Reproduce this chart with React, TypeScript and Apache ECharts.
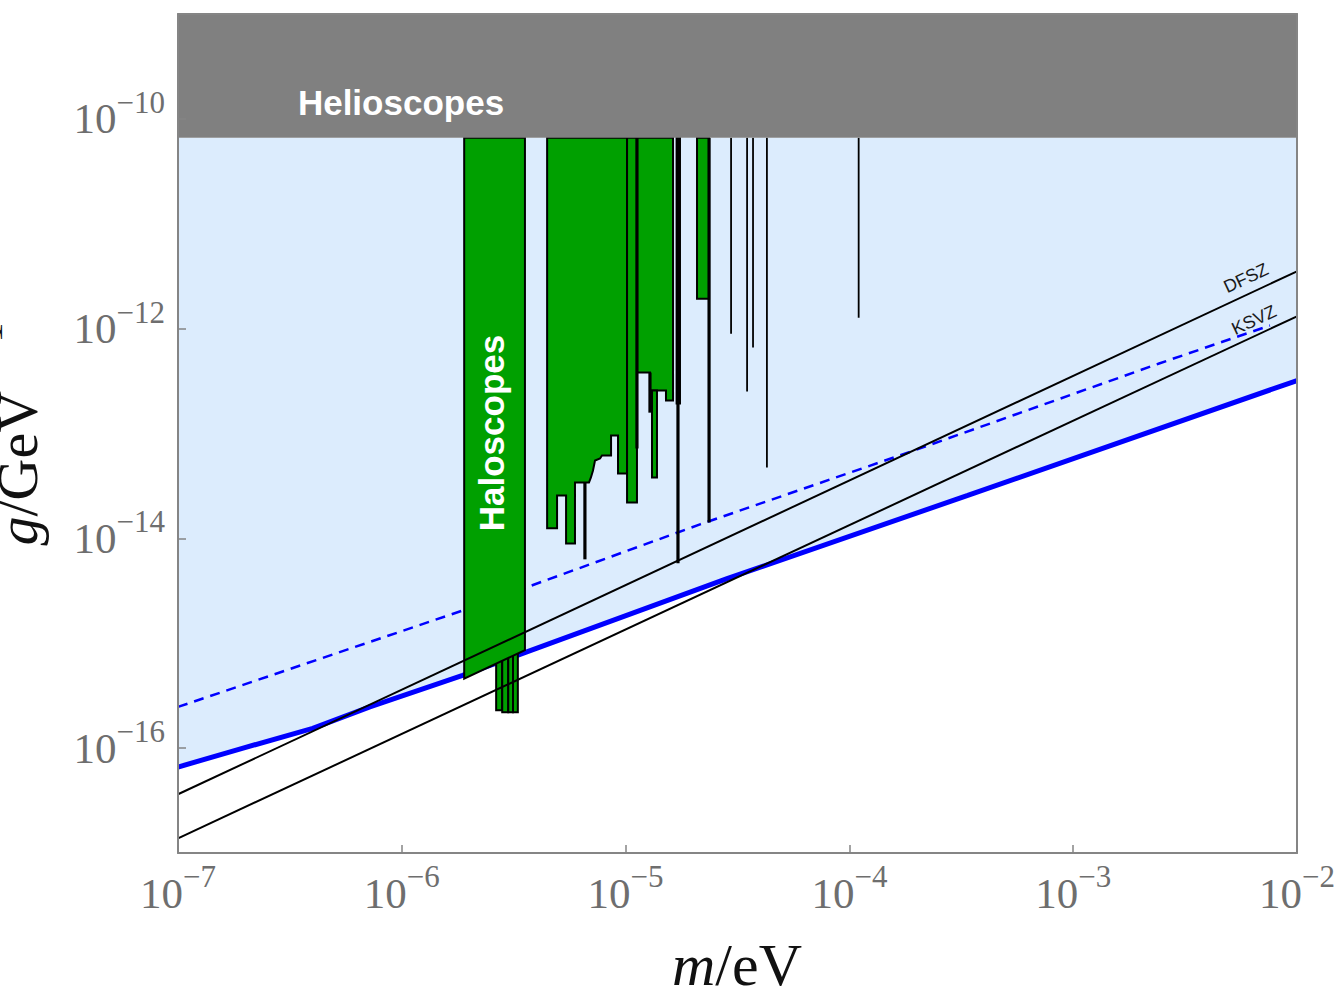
import React, { useEffect, useRef } from "react";
import * as echarts from "echarts";

// Axis ranges (mass in eV, coupling in GeV^-1)
const massMin = 1e-7;
const massMax = 1e-2;
const couplingMin = 1e-17;
const couplingMax = 1e-9;
const massTicks = [1e-7, 1e-6, 1e-5, 1e-4, 1e-3, 1e-2];
const couplingTicks = [1e-16, 1e-14, 1e-12, 1e-10];

// Helioscope bound
const helioscopeLimit = 6.6e-11;

// Lower edge of the shaded band (solid blue)
const bandMass = [1e-7, 1.92e-7, 4.0e-7, 7.2e-7, 1.87e-6, 3.62e-6, 2.84e-5, 3.38e-4, 1e-2];
const bandCoupling = [6.6e-17, 9.9e-17, 1.54e-16, 2.47e-16, 4.95e-16, 8.26e-16, 4.13e-15, 2.57e-14, 3.2e-13];

// Dashed blue curve
const dashedMass = [1e-7, 1.88e-6, 2.15e-5, 1.95e-4, 2.42e-3, 7.57e-3];
const dashedCoupling = [2.47e-16, 2.06e-15, 1.36e-14, 6.9e-14, 4.65e-13, 1.07e-12];

// QCD axion model lines
const dfszMass = [1e-7, 1e-2];
const dfszCoupling = [3.63e-17, 3.52e-12];
const ksvzMass = [1e-7, 1e-2];
const ksvzCoupling = [1.38e-17, 1.31e-12];

// Haloscope exclusions: outlines as [mass, coupling] vertices
const haloscopeMain = [
  [1.9e-6, helioscopeLimit],
  [3.55e-6, helioscopeLimit],
  [3.55e-6, 8.6e-16],
  [1.9e-6, 4.6e-16],
];
const haloscopeStepped = [
  [4.46e-6, helioscopeLimit],
  [1.015e-5, helioscopeLimit],
  [1.015e-5, 4.16e-14],
  [9.25e-6, 4.16e-14],
  [9.25e-6, 9.57e-14],
  [8.61e-6, 9.57e-14],
  [8.61e-6, 6.16e-14],
  [7.84e-6, 6.16e-14],
  [7.69e-6, 5.78e-14],
  [7.3e-6, 5.53e-14],
  [7.15e-6, 4.44e-14],
  [7.0e-6, 3.81e-14],
  [6.86e-6, 3.41e-14],
  [5.94e-6, 3.41e-14],
  [5.94e-6, 8.96e-15],
  [5.42e-6, 8.96e-15],
  [5.42e-6, 2.57e-14],
  [4.94e-6, 2.57e-14],
  [4.94e-6, 1.25e-14],
  [4.46e-6, 1.25e-14],
];
const haloscopeUpper = [
  [1.124e-5, helioscopeLimit],
  [1.629e-5, helioscopeLimit],
  [1.629e-5, 2.06e-13],
  [1.515e-5, 2.06e-13],
  [1.515e-5, 2.57e-13],
  [1.285e-5, 2.57e-13],
  [1.285e-5, 3.81e-13],
  [1.124e-5, 3.81e-13],
];

// Narrow haloscope strips: [mass from, mass to, top coupling, bottom coupling]
const lowStrips = [
  [2.64e-6, 2.81e-6, 8e-16, 2.3e-16],
  [2.81e-6, 2.99e-6, 8e-16, 2.2e-16],
  [2.99e-6, 3.14e-6, 8e-16, 2.2e-16],
  [3.14e-6, 3.3e-6, 8e-16, 2.2e-16],
];
const upperStrips = [
  [1.015e-5, 1.124e-5, helioscopeLimit, 2.2e-14],
  [1.312e-5, 1.381e-5, 2.57e-13, 3.81e-14],
  [1.69e-5, 1.75e-5, helioscopeLimit, 1.93e-13],
  [2.085e-5, 2.36e-5, helioscopeLimit, 1.93e-12],
];

// Single-frequency limits: [mass, top coupling, bottom coupling]
const heavyLimits = [
  [6.58e-6, 3.41e-14, 6.31e-15],
  [1.124e-5, helioscopeLimit, 7.19e-14],
  [1.285e-5, 3.81e-13, 1.58e-13],
  [1.714e-5, helioscopeLimit, 5.78e-15],
  [2.36e-5, helioscopeLimit, 1.42e-14],
];
const lightLimits = [
  [2.96e-5, helioscopeLimit, 8.96e-13],
  [3.49e-5, helioscopeLimit, 2.51e-13],
  [3.71e-5, helioscopeLimit, 6.59e-13],
  [4.28e-5, helioscopeLimit, 4.75e-14],
  [1.1e-4, helioscopeLimit, 1.27e-12],
];

const SERIF = '"Liberation Serif", "DejaVu Serif", serif';
const SANS = '"Liberation Sans", Arial, sans-serif';
const TICK_GREY = "#6e6e6e";
const FRAME_GREY = "#858585";

const zip = (xs: number[], ys: number[]) => xs.map((x, i) => [x, ys[i]]);
const stripToPolygon = (s: number[]) => [
  [s[0], s[2]],
  [s[1], s[2]],
  [s[1], s[3]],
  [s[0], s[3]],
];

const powerLabel = (v: number) => {
  const e = Math.round(Math.log10(v));
  return `{b|10}{s|\u2212${Math.abs(e)}}`;
};

const tickRich = {
  b: { fontFamily: SERIF, fontSize: 43, color: TICK_GREY, lineHeight: 64, verticalAlign: "middle" },
  s: { fontFamily: SERIF, fontSize: 31, color: TICK_GREY, lineHeight: 32, verticalAlign: "top" },
};

function polygonSeries(name: string, shapes: number[][][], style: any, z: number) {
  return {
    type: "custom",
    name,
    z,
    silent: true,
    coordinateSystem: "cartesian2d",
    data: shapes.map((s) => s[0]),
    encode: { x: 0, y: 1 },
    renderItem: (params: any, api: any) => ({
      type: "polygon",
      shape: { points: shapes[params.dataIndex].map((p) => api.coord(p)) },
      style,
    }),
  };
}

function verticalLineSeries(name: string, limits: number[][], width: number, z: number) {
  return {
    type: "custom",
    name,
    z,
    silent: true,
    coordinateSystem: "cartesian2d",
    data: limits.map((l) => [l[0], l[2]]),
    encode: { x: 0, y: 1 },
    renderItem: (params: any, api: any) => {
      const l = limits[params.dataIndex];
      const a = api.coord([l[0], l[1]]);
      const b = api.coord([l[0], l[2]]);
      return {
        type: "line",
        shape: { x1: a[0], y1: a[1], x2: b[0], y2: b[1] },
        style: { stroke: "#000", lineWidth: width },
      };
    },
  };
}

function lineSeries(name: string, xs: number[], ys: number[], lineStyle: any, z: number) {
  return {
    type: "line",
    name,
    z,
    silent: true,
    symbol: "none",
    data: zip(xs, ys),
    lineStyle,
  };
}

export default function App() {
  const ref = useRef<HTMLDivElement>(null);

  useEffect(() => {
    if (!ref.current) return;
    const chart = echarts.init(ref.current, null, { renderer: "svg" });

    const bandRegion = [
      ...zip(bandMass, bandCoupling),
      [massMax, helioscopeLimit],
      [massMin, helioscopeLimit],
    ];
    const helioscopeRegion = [
      [massMin, helioscopeLimit],
      [massMax, helioscopeLimit],
      [massMax, couplingMax],
      [massMin, couplingMax],
    ];
    const haloscopeShapes = [
      ...lowStrips.map(stripToPolygon),
      haloscopeMain,
      haloscopeStepped,
      haloscopeUpper,
      ...upperStrips.map(stripToPolygon),
    ];

    const baseAxis = {
      type: "log",
      logBase: 10,
      splitLine: { show: false },
      minorTick: { show: false },
      axisLine: { show: true, onZero: false, lineStyle: { color: FRAME_GREY, width: 2 } },
      z: 10,
    };

    chart.setOption({
      animation: false,
      grid: { left: 178, right: 45, top: 14, bottom: 144, containLabel: false },
      xAxis: [
        {
          ...baseAxis,
          position: "bottom",
          min: massMin,
          max: massMax,
          axisTick: {
            show: true,
            inside: true,
            length: 8,
            customValues: massTicks,
            lineStyle: { color: FRAME_GREY, width: 1.5 },
          },
          axisLabel: {
            show: true,
            customValues: massTicks,
            margin: 8,
            formatter: powerLabel,
            rich: tickRich,
          },
        },
        {
          ...baseAxis,
          position: "top",
          min: massMin,
          max: massMax,
          axisTick: { show: false },
          axisLabel: { show: false },
        },
      ],
      yAxis: [
        {
          ...baseAxis,
          position: "left",
          min: couplingMin,
          max: couplingMax,
          axisTick: {
            show: true,
            inside: true,
            length: 8,
            customValues: couplingTicks,
            lineStyle: { color: FRAME_GREY, width: 1.5 },
          },
          axisLabel: {
            show: true,
            customValues: couplingTicks,
            margin: 13,
            formatter: powerLabel,
            rich: tickRich,
          },
        },
        {
          ...baseAxis,
          position: "right",
          min: couplingMin,
          max: couplingMax,
          axisTick: { show: false },
          axisLabel: { show: false },
        },
      ],
      series: [
        polygonSeries("band", [bandRegion], { fill: "#dcecfd", stroke: "none" }, 1),
        lineSeries("band edge", bandMass, bandCoupling, { color: "#0000ff", width: 5 }, 2),
        lineSeries("dashed", dashedMass, dashedCoupling, { color: "#0000ff", width: 2.5, type: [10, 7] }, 2),
        polygonSeries("haloscopes", haloscopeShapes, { fill: "#00a000", stroke: "#000", lineWidth: 2 }, 3),
        verticalLineSeries("heavy limits", heavyLimits, 3.2, 4),
        verticalLineSeries("light limits", lightLimits, 1.8, 4),
        polygonSeries("helioscopes", [helioscopeRegion], { fill: "#808080", stroke: "none" }, 5),
        lineSeries("DFSZ", dfszMass, dfszCoupling, { color: "#000", width: 2 }, 6),
        lineSeries("KSVZ", ksvzMass, ksvzCoupling, { color: "#000", width: 2 }, 6),
      ],
      graphic: [
        {
          type: "text",
          x: 401,
          y: 102,
          z: 100,
          style: {
            text: "Helioscopes",
            fill: "#fff",
            font: `bold 35px ${SANS}`,
            align: "center",
            verticalAlign: "middle",
          },
        },
        {
          type: "text",
          x: 491,
          y: 433,
          rotation: Math.PI / 2,
          z: 100,
          style: {
            text: "Haloscopes",
            fill: "#fff",
            font: `bold 35px ${SANS}`,
            align: "center",
            verticalAlign: "middle",
          },
        },
        {
          type: "text",
          x: 1246,
          y: 278,
          rotation: 0.437,
          z: 100,
          style: {
            text: "DFSZ",
            fill: "#1a1a1a",
            font: `18px ${SANS}`,
            align: "center",
            verticalAlign: "middle",
          },
        },
        {
          type: "text",
          x: 1254,
          y: 320,
          rotation: 0.437,
          z: 100,
          style: {
            text: "KSVZ",
            fill: "#1a1a1a",
            font: `18px ${SANS}`,
            align: "center",
            verticalAlign: "middle",
          },
        },
        {
          type: "text",
          x: 737,
          y: 965,
          z: 100,
          style: {
            text: "{i|m}{n|/eV}",
            align: "center",
            verticalAlign: "middle",
            rich: {
              i: { fontFamily: SERIF, fontStyle: "italic", fontSize: 60, lineHeight: 50, fill: "#111" },
              n: { fontFamily: SERIF, fontSize: 60, lineHeight: 50, fill: "#111" },
            },
          },
        },
        {
          type: "text",
          x: 7,
          y: 434,
          rotation: Math.PI / 2,
          z: 100,
          style: {
            text: "{i|g}{n|/GeV}{s|\u22121}",
            align: "center",
            verticalAlign: "middle",
            rich: {
              i: { fontFamily: SERIF, fontStyle: "italic", fontSize: 58, lineHeight: 78, verticalAlign: "bottom", fill: "#111" },
              n: { fontFamily: SERIF, fontSize: 58, lineHeight: 78, verticalAlign: "bottom", fill: "#111" },
              s: { fontFamily: SERIF, fontSize: 40, lineHeight: 40, verticalAlign: "top", padding: [0, 0, 0, 26], fill: "#111" },
            },
          },
        },
      ],
    });

    return () => chart.dispose();
  }, []);

  return (
    <div
      ref={ref}
      style={{ position: "absolute", left: 0, top: 0, width: 1342, height: 997, background: "#fff" }}
    />
  );
}
